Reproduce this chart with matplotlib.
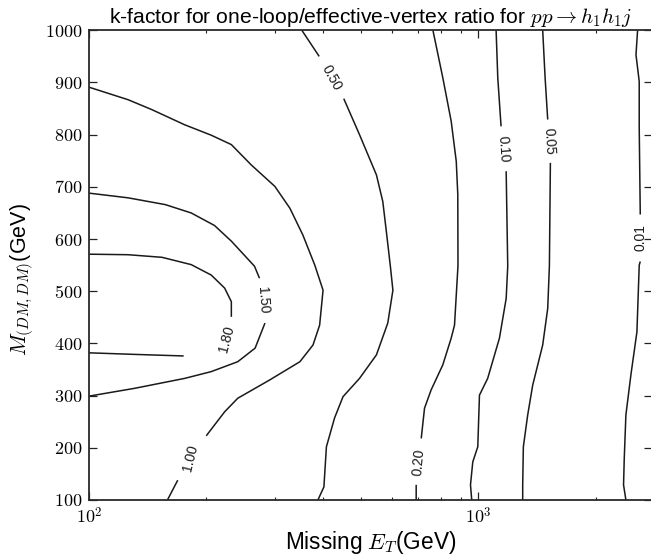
import numpy as np
import matplotlib
matplotlib.use('Agg')
import matplotlib.pyplot as plt
from matplotlib.ticker import FixedLocator, FuncFormatter, NullFormatter

plt.rcParams['font.family'] = ['Liberation Sans', 'DejaVu Sans']
plt.rcParams['mathtext.fontset'] = 'cm'

nan = np.nan

# contour lines: missing E_T (GeV) vs M (GeV), nan = label gap
k180_et = [100, 126, 154, 183, 206, 223, 232, 232, nan, 175, 131, 100]
k180_m = [571, 570, 565, 551, 531, 506, 480, 451, nan, 376, 379, 382]

k150_et = [100, 126, 157, 183, 210, 232, 266, 274, nan, 283, 267, 241, 206, 176, 131, 100]
k150_m = [688, 679, 666, 650, 626, 596, 548, 525, nan, 439, 391, 365, 346, 333, 314, 299]

k100_et = [159, 169, nan, 200, 223, 241, 267, 291, 348, 376, 391, 399, 380, 354, 328,
           300, 261, 232, 206, 176, 145, 126, 100]
k100_m = [100, 138, nan, 223, 269, 295, 314, 330, 365, 397, 435, 502, 550, 608, 659,
          701, 742, 781, 799, 819, 848, 867, 891]

k050_et = [352, 390, nan, 451, 495, 547, 568, 580, 594, 603, 585, 547, 495, 449, 427, 407, 401, 387]
k050_m = [1000, 950, nan, 869, 800, 723, 672, 615, 548, 502, 439, 378, 333, 298, 257, 202, 125, 100]

k020_et = [764, 810, 851, 877, 885, 886, 868, 851, 810, 756, 727, 713, nan, 692, 692]
k020_m = [1000, 909, 826, 749, 685, 549, 435, 410, 359, 311, 276, 218, nan, 129, 100]

k010_et = [1110, 1121, 1143, nan, 1178, 1189, 1178, 1132, 1056, 1006, 996, 967, 954, 961]
k010_m = [1000, 909, 816, nan, 730, 548, 486, 410, 333, 301, 202, 173, 129, 100]

k005_et = [1462, 1483, 1506, nan, 1530, 1521, 1506, 1462, 1378, 1338, 1304, 1299, 1299]
k005_m = [1000, 909, 829, nan, 746, 548, 467, 397, 320, 263, 202, 129, 100]

k001_et = [2562, 2538, 2587, 2587, 2603, nan, 2603, 2587, 2552, 2463, 2391, 2368, 2358, 2391]
k001_m = [1000, 953, 902, 813, 647, nan, 557, 550, 422, 340, 263, 180, 129, 100]

levels = ['1.80', '1.50', '1.00', '0.50', '0.20', '0.10', '0.05', '0.01']

y_ticks = [100, 200, 300, 400, 500, 600, 700, 800, 900, 1000]

fig = plt.figure(figsize=(6.51, 5.60), dpi=100)
ax = fig.add_axes([89 / 651., 60 / 560., 563 / 651., 469.7 / 560.])

lines = [(k180_et, k180_m), (k150_et, k150_m), (k100_et, k100_m), (k050_et, k050_m),
         (k020_et, k020_m), (k010_et, k010_m), (k005_et, k005_m), (k001_et, k001_m)]
for et, m in lines:
    ax.plot(et, m, color='#1a1a1a', lw=1.1, solid_capstyle='butt')

# inline labels: (x, y, rotation)
label_pos = [(226, 409, 75), (280, 483, -86), (182, 181, 76), (419, 909, -61),
             (702, 173, 85), (1160, 773, -86), (1518, 788, -87), (2603, 602, 90)]
for txt, (x, y, rot) in zip(levels, label_pos):
    ax.text(x, y, txt, fontsize=10, rotation=rot, ha='center', va='center',
            rotation_mode='anchor', color='#1a1a1a')

ax.set_xscale('log')
ax.set_xlim(100, 2790)
ax.set_ylim(100, 1000)

ax.xaxis.set_major_locator(FixedLocator([100, 1000]))
ax.xaxis.set_minor_locator(FixedLocator([200, 300, 400, 500, 600, 700, 800, 900, 2000]))
ax.xaxis.set_major_formatter(FuncFormatter(lambda v, p: r'$10^{%d}$' % round(np.log10(v))))
ax.xaxis.set_minor_formatter(NullFormatter())
ax.yaxis.set_major_locator(FixedLocator(y_ticks))
ax.yaxis.set_major_formatter(FuncFormatter(lambda v, p: r'$%d$' % v))

ax.tick_params(which='both', direction='in', top=True, right=True, color='#222222')
ax.tick_params(which='major', length=5.5, width=0.9, labelsize=13, pad=5)
ax.tick_params(which='minor', length=2.5, width=0.8)
for s in ax.spines.values():
    s.set_linewidth(1.3)
    s.set_color('#2a2a2a')

ax.set_title(r'k-factor for one-loop/effective-vertex ratio for $pp \rightarrow h_1h_1j$',
             fontsize=15.2, pad=5)
ax.set_xlabel(r'Missing $E_T$(GeV)', fontsize=16.3, labelpad=1)
ax.set_ylabel(r'$M_{(DM,DM)}$(GeV)', fontsize=15.5, labelpad=6)
ax.yaxis.label.set_y(0.47)

fig.savefig('out.png', dpi=100)
